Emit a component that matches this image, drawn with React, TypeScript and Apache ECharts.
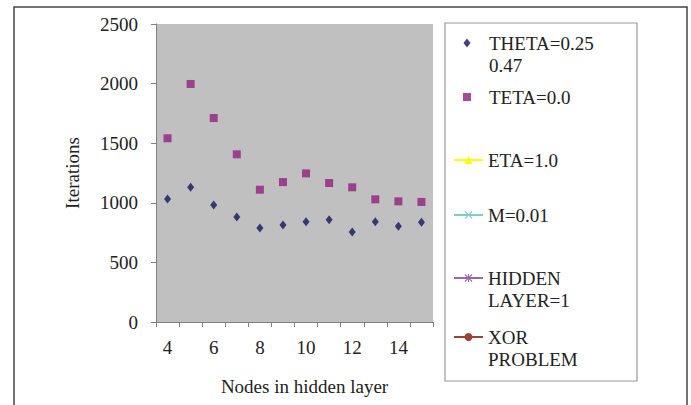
import React, { useEffect, useRef } from "react";
import * as echarts from "echarts";

const categories = ["4", "5", "6", "7", "8", "9", "10", "11", "12", "13", "14", "15"];
const thetaValues = [1032, 1130, 981, 881, 789, 814, 841, 858, 755, 841, 803, 836];
const tetaValues = [1541, 1997, 1711, 1407, 1110, 1174, 1247, 1166, 1130, 1029, 1012, 1007];
const yTicks = { min: 0, max: 2500, interval: 500 };

const seriesNames = {
  theta: "THETA=0.25\n0.47",
  teta: "TETA=0.0",
  eta: "ETA=1.0",
  m: "M=0.01",
  hidden: "HIDDEN\nLAYER=1",
  xor: "XOR\nPROBLEM",
};

const FONT = "Liberation Serif";
const FS = 19;
const X_PATH = "path://M0,1L1,0L5,4L9,0L10,1L6,5L10,9L9,10L5,6L1,10L0,9L4,5Z";
const STAR_PATH =
  "path://M0,1L1,0L5,4L9,0L10,1L6,5L10,9L9,10L5,6L1,10L0,9L4,5Z M4.4,0L5.6,0L5.6,10L4.4,10Z";

export default function App() {
  const ref = useRef<HTMLDivElement>(null);
  useEffect(() => {
    if (!ref.current) return;
    const chart = echarts.init(ref.current, undefined, { renderer: "svg" });
    const baseText = { fontFamily: FONT, fontSize: FS, color: "#222", lineHeight: 22 };
    const mkLegend = (
      name: string,
      top: number,
      multi: boolean,
      symbolBox?: [number, number]
    ) => {
      const isSym = !!symbolBox;
      const w = isSym ? symbolBox![0] : 29;
      const h = isSym ? symbolBox![1] : 10;
      return {
        data: [name],
        left: isSym ? 467 - w / 2 : 453,
        top,
        padding: 0,
        itemWidth: w,
        itemHeight: h,
        itemGap: 0,
        selectedMode: false,
        formatter: (n: string) => (multi ? " \n" + n : n),
        textStyle: isSym ? { ...baseText, padding: [0, 0, 0, 489 - (467 - w / 2) - w - 5] } : baseText,
      };
    };
    chart.setOption({
      animation: false,
      backgroundColor: "#ffffff",
      grid: {
        left: 156,
        top: 24,
        right: 258,
        bottom: 83,
        show: true,
        backgroundColor: "#c0c0c0",
        borderWidth: 0,
      },
      xAxis: {
        type: "category",
        data: categories,
        boundaryGap: true,
        name: "Nodes in hidden layer",
        nameLocation: "middle",
        nameGap: 55,
        nameTextStyle: { fontFamily: FONT, fontSize: FS, color: "#222", padding: [0, 0, 0, 20] },
        axisLine: { show: true, lineStyle: { color: "#808080", width: 1 } },
        axisTick: { show: true, interval: 0, length: 5, lineStyle: { color: "#808080" } },
        axisLabel: { interval: 1, margin: 16, fontFamily: FONT, fontSize: FS, color: "#222" },
        splitLine: { show: false },
      },
      yAxis: {
        type: "value",
        min: yTicks.min,
        max: yTicks.max,
        interval: yTicks.interval,
        name: "Iterations",
        nameLocation: "middle",
        nameGap: 74,
        nameTextStyle: { fontFamily: FONT, fontSize: FS, color: "#222" },
        axisLine: { show: true, lineStyle: { color: "#808080", width: 1 } },
        axisTick: { show: true, length: 5, lineStyle: { color: "#808080" } },
        axisLabel: {
          margin: 18,
          fontFamily: FONT,
          fontSize: FS,
          color: "#222",
          formatter: (v: number) => String(v),
        },
        splitLine: { show: false },
      },
      legend: [
        mkLegend(seriesNames.theta, 10, true, [7, 9]),
        mkLegend(seriesNames.teta, 86, false, [8, 8]),
        mkLegend(seriesNames.eta, 149, false),
        mkLegend(seriesNames.m, 204, false),
        mkLegend(seriesNames.hidden, 245, true),
        mkLegend(seriesNames.xor, 304, true),
      ],
      graphic: [
        {
          type: "rect",
          shape: { x: 14, y: 7, width: 673, height: 410 },
          style: { fill: "none", stroke: "#444", lineWidth: 1.5 },
          silent: true,
        },
        {
          type: "rect",
          shape: { x: 445, y: 23, width: 192, height: 358 },
          style: { fill: "none", stroke: "#999", lineWidth: 1.2 },
          silent: true,
        },
      ],
      series: [
        {
          name: seriesNames.theta,
          type: "scatter",
          data: thetaValues,
          symbol: "diamond",
          symbolSize: [7, 9],
          itemStyle: { color: "#14145e" },
        },
        {
          name: seriesNames.teta,
          type: "scatter",
          data: tetaValues,
          symbol: "rect",
          symbolSize: 8,
          itemStyle: { color: "#8e2080" },
        },
        {
          name: seriesNames.eta,
          type: "line",
          data: [],
          symbol: "triangle",
          color: "#ffff00",
          lineStyle: { color: "#ffff00", width: 1 },
          itemStyle: { color: "#ffff00" },
        },
        {
          name: seriesNames.m,
          type: "line",
          data: [],
          symbol: X_PATH,
          color: "#80cccc",
          lineStyle: { color: "#80cccc", width: 1 },
          itemStyle: { color: "#80cccc" },
        },
        {
          name: seriesNames.hidden,
          type: "line",
          data: [],
          symbol: STAR_PATH,
          color: "#9966aa",
          lineStyle: { color: "#9966aa", width: 1 },
          itemStyle: { color: "#9966aa" },
        },
        {
          name: seriesNames.xor,
          type: "line",
          data: [],
          symbol: "circle",
          color: "#994433",
          lineStyle: { color: "#994433", width: 1 },
          itemStyle: { color: "#994433" },
        },
      ],
    });
    return () => chart.dispose();
  }, []);
  return <div ref={ref} style={{ width: 691, height: 405, position: "absolute", left: 0, top: 0 }} />;
}
